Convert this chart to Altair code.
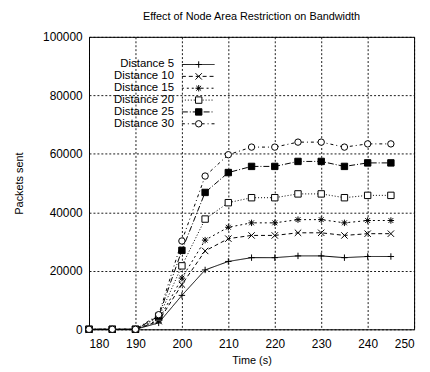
import altair as alt
import pandas as pd

times = [180, 185, 190, 195, 200, 205, 210, 215, 220, 225, 230, 235, 240, 245]
series_names = ["Distance 5", "Distance 10", "Distance 15", "Distance 20", "Distance 25", "Distance 30"]
d5 = [0, 0, 0, 2200, 11600, 20300, 23200, 24500, 24500, 25100, 25100, 24500, 24900, 24900]
d10 = [0, 0, 0, 2800, 15300, 26800, 31000, 32100, 32100, 33000, 33000, 32100, 32700, 32700]
d15 = [0, 0, 0, 3200, 17500, 30500, 34900, 36400, 36400, 37500, 37500, 36400, 37200, 37200]
d20 = [0, 0, 0, 4000, 21700, 37700, 43300, 45000, 45000, 46300, 46300, 45000, 45800, 45800]
d25 = [0, 0, 0, 4500, 27000, 46800, 53600, 55700, 55700, 57400, 57400, 55700, 56900, 56900]
d30 = [0, 0, 0, 5000, 30200, 52400, 59700, 62300, 62300, 64000, 64000, 62300, 63400, 63400]
all_series = [d5, d10, d15, d20, d25, d30]

x_ticks = [180, 190, 200, 210, 220, 230, 240, 250]
y_ticks = [0, 20000, 40000, 60000, 80000, 100000]

rows = []
for name, vals in zip(series_names, all_series):
    for t, v in zip(times, vals):
        rows.append({"time": t, "packets": v, "series": name})
df = pd.DataFrame(rows)
legend_df = pd.DataFrame({"series": series_names})

FONT = "Liberation Sans"
dash_range = [[1, 0], [4, 3], [2, 3], [1, 2], [6, 2, 1, 2], [3, 3, 1, 3]]
shape_range = [
    "M-1,0L1,0M0,-1L0,1",
    "M-1,-1L1,1M-1,1L1,-1",
    "M-1,0L1,0M0,-1L0,1M-0.75,-0.75L0.75,0.75M-0.75,0.75L0.75,-0.75",
    "square",
    "square",
    "circle",
]
fill_range = ["black", "black", "black", "white", "black", "white"]

dash_enc = alt.StrokeDash("series:N", scale=alt.Scale(domain=series_names, range=dash_range), legend=None)
shape_enc = alt.Shape("series:N", scale=alt.Scale(domain=series_names, range=shape_range), legend=None)
fill_enc = alt.Fill("series:N", scale=alt.Scale(domain=series_names, range=fill_range), legend=None)

x_enc = alt.X("time:Q", scale=alt.Scale(domain=[180, 250], nice=False),
              axis=alt.Axis(values=x_ticks, title="Time (s)", grid=True, ticks=False,
                            labelPadding=9, titlePadding=6, domain=False))
y_enc = alt.Y("packets:Q", scale=alt.Scale(domain=[0, 100000], nice=False),
              axis=alt.Axis(values=y_ticks, title="Packets sent", grid=True, ticks=False,
                            labelPadding=7, titlePadding=18, format="d", domain=False))

lines = alt.Chart(df).mark_line(color="black", strokeWidth=1).encode(
    x=x_enc, y=y_enc, strokeDash=dash_enc, detail="series:N"
)
points = alt.Chart(df).mark_point(stroke="black", strokeWidth=1, opacity=1, filled=True, size=42).encode(
    x=x_enc, y=y_enc, shape=shape_enc, fill=fill_enc
)
main = alt.layer(lines, points)

leg_y = alt.Y("series:N", scale=alt.Scale(domain=series_names, range=[22, 94]), axis=None)
leg_text = alt.Chart(legend_df).mark_text(align="right", baseline="middle", fontSize=11.5, font=FONT).encode(
    x=alt.value(86), y=leg_y, text="series:N"
)
leg_rule = alt.Chart(legend_df).mark_rule(color="black", strokeWidth=1).encode(
    x=alt.value(94), x2=alt.value(127), y=leg_y, strokeDash=dash_enc
)
leg_pt = alt.Chart(legend_df).mark_point(stroke="black", strokeWidth=1, opacity=1, filled=True, size=42).encode(
    x=alt.value(111), y=leg_y, shape=shape_enc, fill=fill_enc
)
legend = alt.layer(leg_text, leg_rule, leg_pt)

chart = alt.layer(main, legend).resolve_scale(y="independent").properties(
    width=329,
    height=296,
    autosize=alt.AutoSizeParams(type="none"),
    padding={"left": 82, "top": 27, "right": 8, "bottom": 40},
    title=alt.Title("Effect of Node Area Restriction on Bandwidth", fontSize=11, fontWeight="normal",
                    font=FONT, offset=9, anchor="middle", color="black"),
).configure_view(stroke="black", strokeWidth=1).configure_axis(
    labelFont=FONT, titleFont=FONT, labelFontSize=12, titleFontSize=11, titleFontWeight="normal",
    labelColor="black", titleColor="black", gridColor="black", gridDash=[2, 2], gridOpacity=0.9, gridWidth=1
)

chart.save("out.html", embed_options={"renderer": "svg", "actions": False})
